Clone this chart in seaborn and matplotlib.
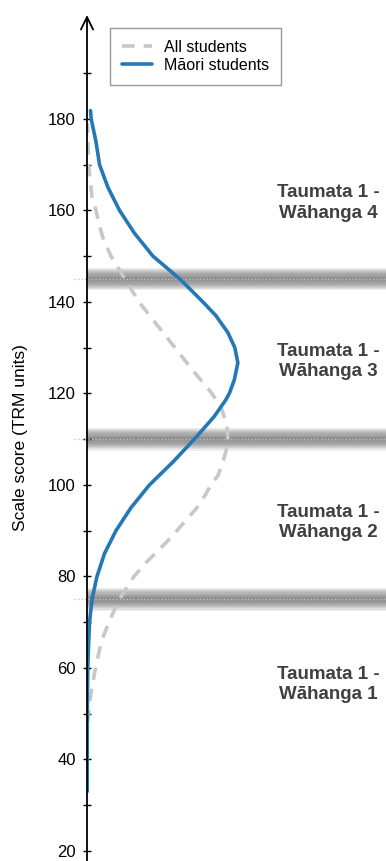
import numpy as np
import pandas as pd
import seaborn as sns
import matplotlib.pyplot as plt

# density curves (score -> density)
maori_score = [33, 40, 47, 53, 60, 65, 70, 75, 80, 85, 90, 95, 100, 105, 110, 115, 118.6,
               120, 123, 126.7, 130, 133.3, 137, 140, 145, 150, 155, 160, 165, 170, 175,
               180, 181.8]
maori_density = [0.00003, 0.00003, 0.00003, 0.00005, 0.00012, 0.00023, 0.00038, 0.00075,
                 0.0015, 0.00263, 0.00435, 0.0066, 0.00938, 0.0129, 0.01613, 0.01913,
                 0.02085, 0.02138, 0.02213, 0.02265, 0.0222, 0.02115, 0.01935, 0.0174,
                 0.01395, 0.0099, 0.00713, 0.00488, 0.00315, 0.00188, 0.00135, 0.00063,
                 0.00053]

all_score = [48, 50, 53, 57, 60, 64, 67, 70, 74.5, 80, 83, 86, 89, 92, 95, 98, 100, 102,
             105, 108, 110, 113, 116.5, 120, 125, 130, 135, 140, 145, 150, 154, 157, 160,
             163, 166, 170, 175, 179]
all_density = [0.00008, 0.00023, 0.00045, 0.0009, 0.00128, 0.00188, 0.00248, 0.0033,
               0.00465, 0.00705, 0.00885, 0.01095, 0.0129, 0.0147, 0.0165, 0.01785, 0.0186,
               0.01965, 0.0204, 0.021, 0.02115, 0.021, 0.02025, 0.01875, 0.0159, 0.0132,
               0.0105, 0.0078, 0.0057, 0.0036, 0.0024, 0.0018, 0.00135, 0.00075, 0.00053,
               0.00023, 0.00015, 0.00008]

cut_scores = [75, 110, 145]
band_labels = ['Taumata 1 -\nWāhanga 1', 'Taumata 1 -\nWāhanga 2',
               'Taumata 1 -\nWāhanga 3', 'Taumata 1 -\nWāhanga 4']
label_scores = [56.3, 91.7, 126.9, 161.6]

major_ticks = list(range(20, 181, 20))
minor_ticks = list(range(30, 191, 20))

groups = ['All students', 'Māori students']

df = pd.concat([
    pd.DataFrame({'score': all_score, 'density': all_density, 'group': groups[0]}),
    pd.DataFrame({'score': maori_score, 'density': maori_density, 'group': groups[1]}),
])

sns.set_style('white')
plt.rcParams['font.family'] = ['Liberation Sans', 'DejaVu Sans']
plt.rcParams['text.color'] = 'black'
plt.rcParams['axes.labelcolor'] = 'black'
plt.rcParams['ytick.color'] = 'black'

fig = plt.figure(figsize=(3.86, 8.61), dpi=100)
ax = fig.add_axes([87 / 386, 0, 299 / 386, 846 / 861])

# blurred cut-score bands
for c in cut_scores:
    for hw in np.linspace(0.25, 2.5, 10):
        ax.axhspan(c - hw, c + hw, color='#555555', alpha=0.1, lw=0, zorder=1)
    ax.axhline(c, xmin=-0.045, color='#c4c4c4', lw=1, ls=(0, (1, 1.5)),
               clip_on=False, zorder=1.5)

sns.lineplot(data=df, x='density', y='score', hue='group', style='group',
             hue_order=groups, style_order=groups, orient='y',
             palette={groups[0]: '#c8c8c8', groups[1]: '#2479b5'},
             dashes={groups[0]: (3.5, 2.5), groups[1]: ''},
             linewidth=2.6, ax=ax, zorder=3)
for line in ax.lines:
    line.set_solid_joinstyle('round')
    line.set_dash_joinstyle('round')

ax.set_xlim(0, 0.0449)
ax.set_ylim(17.8, 202.7)
ax.set_xticks([])
ax.set_yticks(major_ticks)
ax.set_yticks(minor_ticks, minor=True)
ax.tick_params(axis='y', which='both', direction='inout', length=6, width=1,
               color='black', labelcolor='black', labelsize=12, pad=5, left=True)
ax.set_xlabel('')
ax.set_ylabel('Scale score (TRM units)', fontsize=12.5, color='black')
ax.yaxis.set_label_coords(-0.198, 0.5)

for s in ['top', 'right', 'bottom', 'left']:
    ax.spines[s].set_visible(False)

# axis line with arrow head
ax.annotate('', xy=(0, 1), xytext=(0, 0), xycoords='axes fraction',
            arrowprops=dict(arrowstyle='->,head_length=0.45,head_width=0.22',
                            lw=1.3, color='black', shrinkA=0, shrinkB=0,
                            mutation_scale=20),
            annotation_clip=False)

for lab, y in zip(band_labels, label_scores):
    ax.text(0.808, y, lab, transform=ax.get_yaxis_transform(), ha='center', va='center',
            fontsize=13.5, fontweight='bold', color='#404040', linespacing=1.25)

leg = ax.legend(loc='upper left', bbox_to_anchor=(0.077, 0.985), borderaxespad=0,
                fontsize=11.5, frameon=True, fancybox=False, framealpha=1,
                edgecolor='#9a9a9a', handlelength=1.9, handletextpad=0.75,
                labelspacing=0.2, borderpad=0.75)
leg.get_frame().set_linewidth(1.0)
for t in leg.get_texts():
    t.set_color('black')

fig.savefig('out.png', dpi=100)
